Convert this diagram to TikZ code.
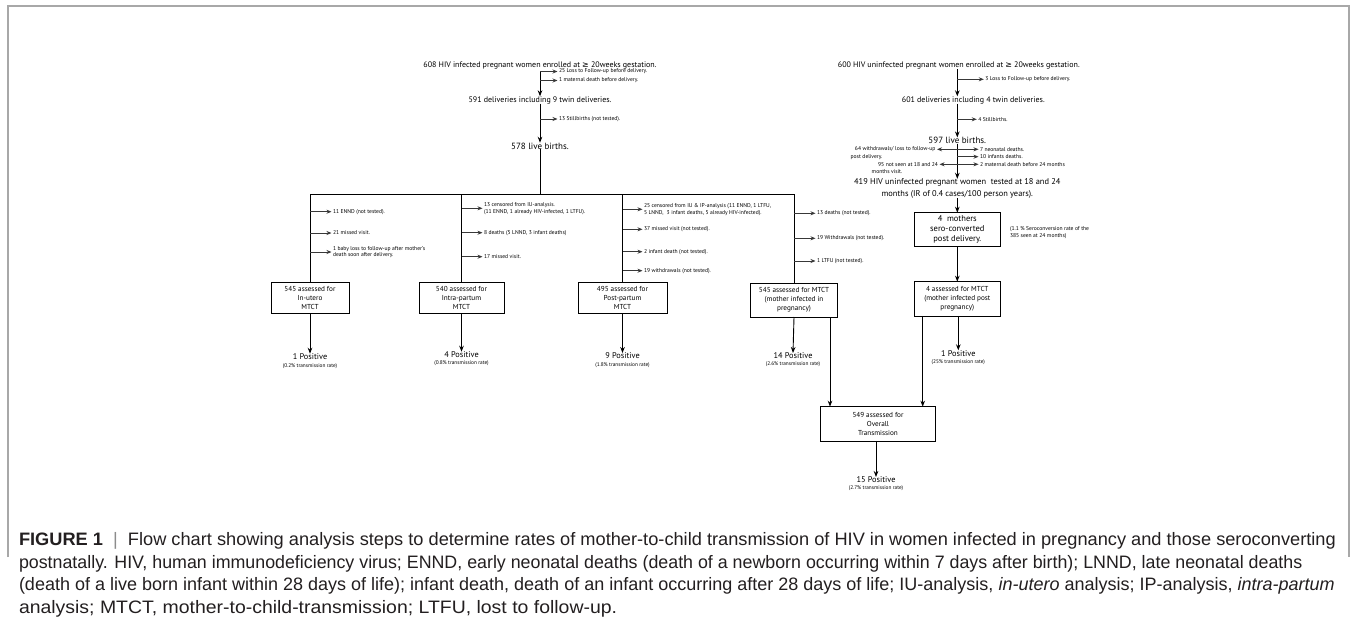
\documentclass[tikz,border=0pt]{standalone}
\usepackage{fontspec}
\setmainfont{PT Sans}
\newfontfamily\capfont{Liberation Sans}
\newfontfamily\symf{DejaVu Sans}
\usetikzlibrary{arrows.meta}
\definecolor{framegray}{HTML}{A8A8A8}
\definecolor{captxt}{HTML}{231F20}
\tikzset{
  every node/.style={inner sep=0pt, outer sep=0pt},
  maintxt/.style={font=\fontsize{8}{9.6}\selectfont, align=center},
  livetxt/.style={font=\fontsize{9}{10}\selectfont},
  bigtxt/.style={font=\fontsize{8.4}{11.6}\selectfont, align=center},
  sidetxt/.style={font=\fontsize{5.6}{6.8}\selectfont, anchor=west, align=left},
  sideEtxt/.style={font=\fontsize{5.6}{6.8}\selectfont, anchor=east},
  boxn/.style={draw, line width=0.9pt, align=center, font=\fontsize{7.2}{8.8}\selectfont},
  mbox/.style={draw, line width=0.9pt, align=center, font=\fontsize{8.5}{10}\selectfont},
  posn/.style={font=\fontsize{8.3}{9}\selectfont},
  ratetxt/.style={font=\fontsize{5.3}{6}\selectfont},
  lnstyle/.style={line width=0.9pt},
  arr/.style={line width=0.9pt, -{Stealth[length=6pt,width=4.6pt]}},
  sarr/.style={line width=1pt, draw=black!78, shorten >=1.5pt, -{Stealth[length=5pt,width=4pt]}},
  framestyle/.style={draw=framegray, line width=1.1pt},
  captionline/.style={font=\capfont\fontsize{18}{20}\selectfont, text=captxt, anchor=west},
}
\begin{document}
\begin{tikzpicture}[x=1pt,y=-1pt]
\useasboundingbox (0,0) rectangle (1356,635);
\fill[white] (0,0) rectangle (1356,635);
\draw[framestyle] (8,557) -- (8,6) -- (1349,6) -- (1349,557);

% ---------- left column (HIV infected) ----------
\coordinate (cL) at (540,0);
\node[maintxt] (n608) at (540,65.5) {608 HIV infected pregnant women enrolled at {\symf ≥} 20weeks gestation.};
\node[maintxt] (n591) at (540,100) {591 deliveries including 9 twin deliveries.};
\node[livetxt] (n578) at (540,146) {578 live births.};
\node[sidetxt] (s25) at (559,71.5) {25 Loss to Follow-up before delivery.};
\node[sidetxt] (s1m) at (559,80.5) {1 maternal death before delivery.};
\draw[arr] (s25.west -| cL) -- (n591.north -| cL);
\draw[sarr] (s25.west -| cL) -- (s25.west);
\draw[sarr] (s1m.west -| cL) -- (s1m.west);
\node[sidetxt] (s13) at (559,119) {13 Stillbirths (not tested).};
\draw[arr] (n591.south -| cL) -- (n578.north -| cL);
\draw[sarr] (s13.west -| cL) -- (s13.west);

% branch line
\coordinate (hb) at (0,194);
\node[boxn, minimum width=78pt, minimum height=30.5pt] (b1) at (310,297.8) {545 assessed for\\In-utero\\MTCT};
\node[boxn, minimum width=85pt, minimum height=30.5pt] (b2) at (461.5,297.8) {540 assessed for\\Intra-partum\\MTCT};
\node[boxn, minimum width=89pt, minimum height=30.5pt] (b3) at (622.5,297.8) {495 assessed for\\Post-partum\\MTCT};
\node[boxn, minimum width=87pt, minimum height=34pt] (b4) at (794,300) {545 assessed for MTCT\\(mother infected in\\pregnancy)};
\draw[lnstyle] (n578.south -| cL) -- (cL |- hb);
\draw[lnstyle] (b1.north |- hb) -- (b4.north |- hb);
\draw[lnstyle] (b1.north |- hb) -- (b1.north);
\draw[lnstyle] (b2.north |- hb) -- (b2.north);
\draw[lnstyle] (b3.north |- hb) -- (b3.north);
\draw[lnstyle] (b4.north |- hb) -- (b4.north);

% side notes branch 1
\node[sidetxt] (a1) at (333,211.7) {11 ENND (not tested).};
\node[sidetxt] (a2) at (333,233) {21 missed visit.};
\node[sidetxt] (a3) at (333,252) {1 baby loss to follow-up after mother's\\death soon after delivery.};
\foreach \n in {a1,a2,a3} \draw[sarr] (\n.west -| b1.north) -- (\n.west);
% branch 2
\node[sidetxt] (c1) at (484,208.3) {13 censored from IU-analysis.\\(11 ENND, 1 already HIV-infected, 1 LTFU).};
\node[sidetxt] (c2) at (484,232.7) {8 deaths (5 LNND, 3 infant deaths)};
\node[sidetxt] (c3) at (484,256.7) {17 missed visit.};
\foreach \n in {c1,c2,c3} \draw[sarr] (\n.west -| b2.north) -- (\n.west);
% branch 3
\node[sidetxt] (d1) at (644,209.3) {25 censored from IU \& IP-analysis (11 ENND, 1 LTFU,\\5 LNND,\ \ 3 infant deaths, 5 already HIV-infected).};
\node[sidetxt] (d2) at (644,229.3) {37 missed visit (not tested).};
\node[sidetxt] (d3) at (644,251.7) {2 infant death (not tested).};
\node[sidetxt] (d4) at (644,270.7) {19 withdrawals (not tested).};
\foreach \n in {d1,d2,d3,d4} \draw[sarr] (\n.west -| b3.north) -- (\n.west);
% branch 4
\node[sidetxt] (e1) at (817,213.3) {13 deaths (not tested).};
\node[sidetxt] (e2) at (817,238.3) {19 Withdrawals (not tested).};
\node[sidetxt] (e3) at (817,261) {1 LTFU (not tested).};
\foreach \n in {e1,e2,e3} \draw[sarr] (\n.west -| b4.north) -- (\n.west);

% positives
\node[posn] (p1) at (310,356.7) {1 Positive};
\node[ratetxt] (r1) at (310,365.7) {(0.2\% transmission rate)};
\node[posn] (p2) at (461.5,354.7) {4 Positive};
\node[ratetxt] (r2) at (461.5,363.3) {(0.8\% transmission rate)};
\node[posn] (p3) at (622.5,356) {9 Positive};
\node[ratetxt] (r3) at (622.5,364.7) {(1.8\% transmission rate)};
\node[posn] (p4) at (793,356) {14 Positive};
\node[ratetxt] (r4) at (793,364.3) {(2.6\% transmission rate)};
\draw[arr] (b1.south) -- (p1.north);
\draw[arr] (b2.south) -- (p2.north);
\draw[arr] (b3.south) -- (p3.north);
\draw[arr] (b4.south) -- (p4.north);

% ---------- right column (HIV uninfected) ----------
\coordinate (cR) at (957.3,0);
\node[maintxt] (n600) at (958.8,65.7) {600 HIV uninfected pregnant women enrolled at {\symf ≥} 20weeks gestation.};
\node[maintxt] (n601) at (973.3,100) {601 deliveries including 4 twin deliveries.};
\node[livetxt] (n597) at (957.3,140.7) {597 live births.};
\node[sidetxt] (s3) at (985.3,79.3) {3 Loss to Follow-up before delivery.};
\node[sidetxt] (s4) at (978.3,119.3) {4 Stillbirths.};
\draw[arr] (n600.south -| cR) -- (n601.north -| cR);
\draw[sarr] (s3.west -| cR) -- (s3.west);
\draw[arr] (n601.south -| cR) -- (n597.north -| cR);
\draw[sarr] (s4.west -| cR) -- (s4.west);

\node[bigtxt] (n419) at (957.3,188.5) {419 HIV uninfected pregnant women\ \ tested at 18 and 24\\months (IR of 0.4 cases/100 person years).};
\draw[arr] (n597.south -| cR) -- (n419.north -| cR);
\node[sidetxt] (t7) at (980,149.3) {7 neonatal deaths.};
\node[sidetxt] (t10) at (980,156.7) {10 infants deaths.};
\node[sidetxt] (t2) at (980,164.3) {2 maternal death before 24 months};
\foreach \n in {t7,t10,t2} \draw[sarr] (\n.west -| cR) -- (\n.west);
\node[sideEtxt] (t64) at (935.5,149.3) {64 withdrawals/ loss to follow-up};
\node[sidetxt] (t64b) at (850.7,156.7) {post delivery.};
\node[sideEtxt] (t95) at (938,164.3) {95 not seen at 18 and 24};
\node[sidetxt] (t95b) at (871.7,171.7) {months visit.};
\draw[sarr] (t64.east -| cR) -- (t64.east);
\draw[sarr] (t95.east -| cR) -- (t95.east);

\node[mbox, minimum width=86.7pt, minimum height=34pt] (m4) at (957.3,229.7) {4~ mothers\\sero-converted\\post delivery.};
\draw[arr] (n419.south -| cR) -- (m4.north);
\node[sidetxt] (note) at (1010,233) {(1.1 \% Seroconversion rate of the\\385 seen at 24 months)};
\node[boxn, minimum width=86.7pt, minimum height=34.3pt] (b5) at (957.3,298.8) {4 assessed for MTCT\\(mother infected post\\pregnancy)};
\draw[arr] (m4.south) -- (b5.north);
\coordinate (k5) at (958.3,0);
\node[posn] (p5) at (958.3,353.3) {1 Positive};
\node[ratetxt] (r5) at (958.3,362.3) {(25\% transmission rate)};
\draw[arr] (b5.south -| k5) -- (p5.north);

% ---------- overall ----------
\node[boxn, minimum width=114.6pt, minimum height=34.3pt] (ov) at (878,423.8) {549 assessed for\\Overall\\Transmission};
\coordinate (j4) at (830,0);
\coordinate (j5) at (922.7,0);
\draw[arr] (b4.south -| j4) -- (ov.north -| j4);
\draw[arr] (b5.south -| j5) -- (ov.north -| j5);
\node[posn] (p6) at (876,480) {15 Positive};
\node[ratetxt] (r6) at (876,488.3) {(2.7\% transmission rate)};
\draw[arr] (ov.south -| p6) -- (p6.north);

% ---------- caption ----------
\node[captionline] (cap1) at (19,541) {\scalebox{1.012}[1]{\textbf{FIGURE 1}\ \ {\color{black!45}|}\ \ Flow chart showing analysis steps to determine rates of mother-to-child transmission of HIV in women infected in pregnancy and those seroconverting}};
\node[captionline] (cap2) at (19,563.5) {\scalebox{0.99}[1]{postnatally. HIV, human immunodeficiency virus; ENND, early neonatal deaths (death of a newborn occurring within 7 days after birth); LNND, late neonatal deaths}};
\node[captionline] (cap3) at (19,586) {(death of a live born infant within 28 days of life); infant death, death of an infant occurring after 28 days of life; IU-analysis, \textit{in-utero} analysis; IP-analysis, \textit{intra-partum}};
\node[captionline] (cap4) at (19,608.5) {\scalebox{1.08}[1]{analysis; MTCT, mother-to-child-transmission; LTFU, lost to follow-up.}};
\end{tikzpicture}
\end{document}
